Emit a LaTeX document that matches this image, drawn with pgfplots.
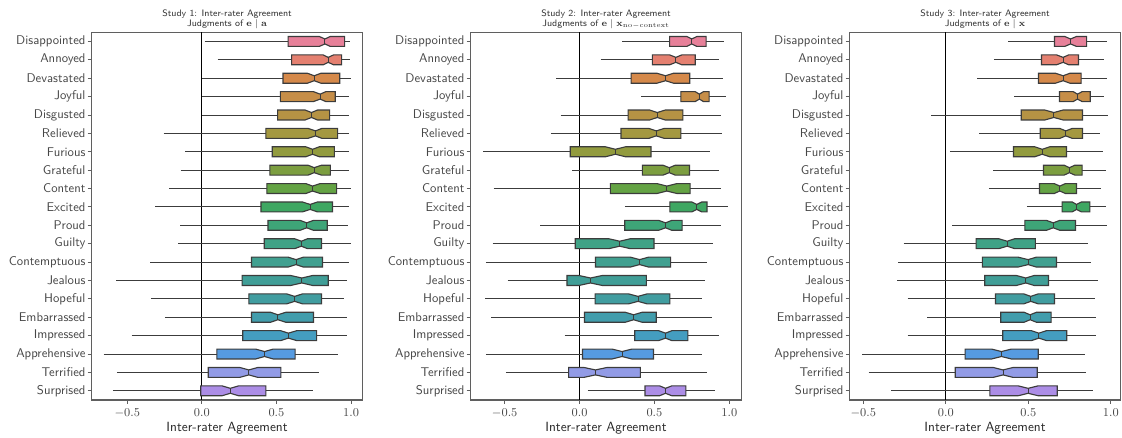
\documentclass[border=0pt]{standalone}
\usepackage{pgfplots}
\usepackage{pgfplotstable}
\pgfplotsset{compat=1.18}

\definecolor{c0}{RGB}{231,128,153}
\definecolor{c1}{RGB}{228,128,112}
\definecolor{c2}{RGB}{213,137,74}
\definecolor{c3}{RGB}{198,142,72}
\definecolor{c4}{RGB}{181,147,68}
\definecolor{c5}{RGB}{164,152,64}
\definecolor{c6}{RGB}{146,155,62}
\definecolor{c7}{RGB}{124,158,64}
\definecolor{c8}{RGB}{100,163,68}
\definecolor{c9}{RGB}{62,167,98}
\definecolor{c10}{RGB}{62,165,120}
\definecolor{c11}{RGB}{63,162,134}
\definecolor{c12}{RGB}{64,160,144}
\definecolor{c13}{RGB}{64,158,151}
\definecolor{c14}{RGB}{65,157,160}
\definecolor{c15}{RGB}{66,157,172}
\definecolor{c16}{RGB}{68,157,192}
\definecolor{c17}{RGB}{86,155,225}
\definecolor{c18}{RGB}{146,155,230}
\definecolor{c19}{RGB}{172,141,230}
\definecolor{txt}{RGB}{70,70,70}
\definecolor{frame}{RGB}{95,95,95}
\definecolor{edge}{RGB}{60,60,60}

% columns: whisker low, Q1, notch low, median, notch high, Q3, whisker high
\pgfplotstableread{
name wl q1 nl med nh q3 wh
Disappointed 0.018 0.578 0.787 0.825 0.861 0.957 0.996
Annoyed 0.106 0.602 0.813 0.847 0.883 0.937 0.996
Devastated 0.000 0.544 0.708 0.753 0.798 0.924 1.000
Joyful 0.000 0.526 0.748 0.793 0.831 0.894 0.989
Disgusted 0.000 0.508 0.692 0.735 0.775 0.856 0.984
Relieved -0.256 0.429 0.712 0.762 0.804 0.910 0.989
Furious -0.110 0.472 0.697 0.742 0.787 0.888 0.984
Grateful -0.142 0.456 0.712 0.753 0.802 0.861 0.989
Content -0.218 0.436 0.697 0.742 0.793 0.903 1.000
Excited -0.312 0.396 0.674 0.726 0.775 0.876 0.984
Proud -0.144 0.443 0.658 0.703 0.748 0.840 0.978
Guilty -0.157 0.418 0.622 0.667 0.708 0.802 0.998
Contemptuous -0.346 0.333 0.578 0.631 0.681 0.809 0.984
Jealous -0.573 0.270 0.596 0.670 0.742 0.847 0.973
Hopeful -0.342 0.315 0.569 0.622 0.674 0.802 0.955
Embarrassed -0.247 0.333 0.461 0.510 0.562 0.748 0.971
Impressed -0.470 0.274 0.528 0.580 0.636 0.769 0.971
Apprehensive -0.658 0.101 0.360 0.420 0.479 0.625 0.910
Terrified -0.569 0.043 0.254 0.315 0.375 0.530 0.782
Surprised -0.596 -0.007 0.135 0.191 0.247 0.429 0.746
}\dataA

\pgfplotstableread{
name wl q1 nl med nh q3 wh
Disappointed 0.284 0.601 0.716 0.749 0.783 0.845 0.967
Annoyed 0.140 0.486 0.601 0.643 0.683 0.772 0.933
Devastated -0.157 0.344 0.517 0.574 0.627 0.736 0.960
Joyful 0.412 0.676 0.772 0.800 0.827 0.865 0.978
Disgusted -0.126 0.324 0.468 0.519 0.572 0.690 0.942
Relieved -0.191 0.277 0.463 0.512 0.565 0.676 0.951
Furious -0.643 -0.062 0.173 0.239 0.306 0.477 0.871
Grateful -0.049 0.419 0.557 0.599 0.639 0.734 0.931
Content -0.574 0.206 0.517 0.583 0.650 0.738 0.945
Excited 0.302 0.603 0.749 0.783 0.816 0.851 0.993
Proud -0.264 0.302 0.528 0.574 0.616 0.685 0.945
Guilty -0.581 -0.029 0.195 0.268 0.339 0.497 0.894
Contemptuous -0.625 0.106 0.339 0.401 0.461 0.608 0.854
Jealous -0.481 -0.084 -0.004 0.073 0.151 0.446 0.838
Hopeful -0.630 0.104 0.328 0.390 0.450 0.603 0.816
Embarrassed -0.590 0.033 0.306 0.361 0.417 0.512 0.882
Impressed -0.100 0.368 0.528 0.574 0.616 0.723 0.933
Apprehensive -0.625 0.020 0.217 0.284 0.350 0.494 0.816
Terrified -0.492 -0.073 0.029 0.106 0.184 0.406 0.849
Surprised 0.053 0.437 0.534 0.574 0.616 0.710 0.905
}\dataB

\pgfplotstableread{
name wl q1 nl med nh q3 wh
Disappointed 0.378 0.659 0.721 0.756 0.792 0.853 0.974
Annoyed 0.291 0.580 0.671 0.711 0.745 0.804 0.960
Devastated 0.190 0.562 0.665 0.711 0.752 0.820 0.974
Joyful 0.414 0.689 0.772 0.798 0.826 0.875 0.960
Disgusted -0.087 0.457 0.600 0.655 0.711 0.828 0.984
Relieved 0.202 0.572 0.691 0.727 0.766 0.828 0.933
Furious 0.024 0.410 0.539 0.584 0.630 0.731 0.952
Grateful 0.287 0.592 0.717 0.749 0.782 0.826 0.970
Content 0.261 0.568 0.657 0.691 0.725 0.792 0.943
Excited 0.491 0.705 0.766 0.792 0.822 0.873 0.968
Proud 0.038 0.479 0.610 0.651 0.691 0.786 0.974
Guilty -0.255 0.184 0.321 0.372 0.418 0.543 0.859
Contemptuous -0.287 0.222 0.438 0.499 0.549 0.671 0.877
Jealous -0.295 0.236 0.428 0.485 0.535 0.622 0.925
Hopeful -0.232 0.301 0.473 0.515 0.560 0.659 0.907
Embarrassed -0.111 0.333 0.475 0.511 0.549 0.638 0.909
Impressed -0.232 0.345 0.519 0.564 0.610 0.733 0.909
Apprehensive -0.505 0.117 0.277 0.337 0.398 0.560 0.846
Terrified -0.467 0.057 0.287 0.347 0.408 0.554 0.848
Surprised -0.329 0.267 0.438 0.499 0.560 0.675 0.893
}\dataC

\newcommand{\drawboxes}[1]{%
  \addplot[black, line width=0.8pt] coordinates {(0,-0.5) (0,19.5)};
  \pgfplotsinvokeforeach{0,...,19}{%
    \pgfplotstablegetelem{##1}{wl}\of#1\let\vwl\pgfplotsretval
    \pgfplotstablegetelem{##1}{q1}\of#1\let\vqa\pgfplotsretval
    \pgfplotstablegetelem{##1}{nl}\of#1\let\vnl\pgfplotsretval
    \pgfplotstablegetelem{##1}{med}\of#1\let\vmed\pgfplotsretval
    \pgfplotstablegetelem{##1}{nh}\of#1\let\vnh\pgfplotsretval
    \pgfplotstablegetelem{##1}{q3}\of#1\let\vqc\pgfplotsretval
    \pgfplotstablegetelem{##1}{wh}\of#1\let\vwh\pgfplotsretval
    \pgfmathsetmacro\ylo{##1-0.27}%
    \pgfmathsetmacro\yhi{##1+0.27}%
    \pgfmathsetmacro\ymlo{##1-0.135}%
    \pgfmathsetmacro\ymhi{##1+0.135}%
    \edef\doplots{%
      \noexpand\addplot[edge, line width=0.7pt] coordinates {(\vwl,##1) (\vwh,##1)};
      \noexpand\addplot[draw=edge, line width=0.85pt, fill=c##1, line join=miter] coordinates {(\vqa,\ylo) (\vnl,\ylo) (\vmed,\ymlo) (\vnh,\ylo) (\vqc,\ylo) (\vqc,\yhi) (\vnh,\yhi) (\vmed,\ymhi) (\vnl,\yhi) (\vqa,\yhi)} -- cycle;
      \noexpand\addplot[edge, line width=0.7pt] coordinates {(\vmed,\ymlo) (\vmed,\ymhi)};
    }\doplots
  }%
}

\pgfplotsset{
  panel/.style={
    scale only axis,
    width=203pt, height=275.8pt,
    anchor=south west,
    ymin=-0.5, ymax=19.5, y dir=reverse,
    ytick={0,...,19},
    yticklabels={Disappointed,Annoyed,Devastated,Joyful,Disgusted,Relieved,Furious,Grateful,Content,Excited,Proud,Guilty,Contemptuous,Jealous,Hopeful,Embarrassed,Impressed,Apprehensive,Terrified,Surprised},
    xtick={-0.5,0,0.5,1},
    xticklabel style={/pgf/number format/fixed, /pgf/number format/fixed zerofill, /pgf/number format/precision=1},
    tick align=outside,
    xtick pos=bottom, ytick pos=left,
    major tick length=3pt,
    tick style={frame, line width=0.7pt},
    axis line style={frame, line width=0.9pt},
    y tick label style={font=\sffamily\fontsize{9.5}{10}\selectfont, text=txt, inner sep=1.5pt},
    x tick label style={font=\fontsize{9.5}{10}\selectfont, text=txt},
    xlabel={Inter-rater Agreement},
    xlabel style={font=\sffamily\fontsize{10}{11}\selectfont, text=black!85, yshift=3pt},
    title style={font=\sffamily\fontsize{7}{7.6}\selectfont, align=center, text=black!80, yshift=-7pt},
    clip=true,
  }
}

\begin{document}
\begin{tikzpicture}
\path[use as bounding box] (0,0) rectangle (841.5pt,328.5pt);

\begin{axis}[panel, at={(68.8pt,28.5pt)}, xmin=-0.738, xmax=1.076,
  title={Study 1: Inter-rater Agreement\\Judgments of $\mathbf{e}\mid\mathbf{a}$}]
\drawboxes{\dataA}
\end{axis}

\begin{axis}[panel, at={(353.0pt,28.5pt)}, xmin=-0.727, xmax=1.08,
  title={Study 2: Inter-rater Agreement\\Judgments of $\mathbf{e}\mid\mathbf{x}_{\mathrm{no-context}}$}]
\drawboxes{\dataB}
\end{axis}

\begin{axis}[panel, at={(637.3pt,28.5pt)}, xmin=-0.582, xmax=1.058,
  title={Study 3: Inter-rater Agreement\\Judgments of $\mathbf{e}\mid\mathbf{x}$}]
\drawboxes{\dataC}
\end{axis}
\end{tikzpicture}
\end{document}
